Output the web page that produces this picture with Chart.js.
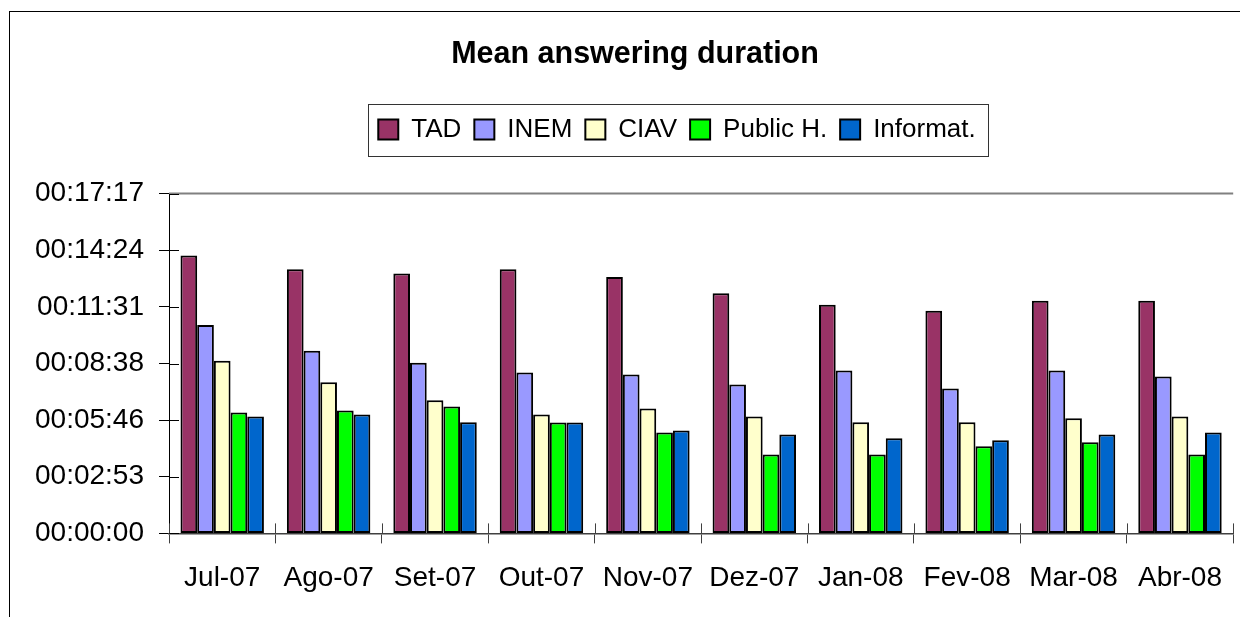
<!DOCTYPE html>
<html><head><meta charset="utf-8">
<script src="https://cdn.jsdelivr.net/npm/chart.js@4.4.1/dist/chart.umd.min.js"></script>
<style>
html,body{margin:0;padding:0;background:#fff;overflow:hidden;width:1240px;height:617px;}
#frame{position:absolute;left:9px;top:11px;width:1300px;height:700px;border:1px solid #000;box-sizing:border-box;}
#wrap{position:absolute;left:0;top:0;width:1240px;height:617px;}
</style></head><body>
<div id="frame"></div>
<div id="wrap"><canvas id="c" width="1240" height="617"></canvas></div>
<script>
const categories = ['Jul-07','Ago-07','Set-07','Out-07','Nov-07','Dez-07','Jan-08','Fev-08','Mar-08','Abr-08'];
const seriesNames = ['TAD','INEM','CIAV','Public H.','Informat.'];
// values in seconds
const tad      = [848, 806, 793, 806, 782, 733, 698, 679, 710, 710];
const inem     = [636, 557, 521, 491, 485, 454, 497, 442, 497, 479];
const ciav     = [527, 461, 406, 363, 381, 357, 339, 339, 351, 357];
const publicH  = [369, 375, 387, 338, 308, 241, 241, 266, 278, 241];
const informat = [357, 363, 339, 338, 314, 302, 290, 284, 302, 308];
const yTickValues = [0, 172.8, 345.6, 518.4, 691.2, 864, 1036.8];
const yTickLabels = ['00:00:00','00:02:53','00:05:46','00:08:38','00:11:31','00:14:24','00:17:17'];
const seriesColors = ['#993366','#9999FF','#FFFFCC','#00FF00','#0066CC'];

const FONT = "'Liberation Sans', Arial, sans-serif";
Chart.defaults.font.family = FONT;
Chart.defaults.color = '#000';

const LEGEND_SHIFT = 42;

const decor = {
  id: 'decor',
  afterLayout(chart) {
    const lg = chart.legend;
    lg.left += LEGEND_SHIFT; lg.right += LEGEND_SHIFT;
  },
  beforeDatasetsDraw(chart) {
    const {ctx, chartArea: a} = chart;
    ctx.save();
    ctx.strokeStyle = '#808080'; ctx.lineWidth = 2;
    ctx.beginPath(); ctx.moveTo(a.left, a.top); ctx.lineTo(a.right, a.top); ctx.stroke();
    ctx.restore();
  },
  afterDraw(chart) {
    const {ctx, chartArea: a} = chart;
    const ys = chart.scales.y, xs = chart.scales.x;
    ctx.save();
    ctx.strokeStyle = '#000'; ctx.lineWidth = 1;
    ys.ticks.forEach(t => {
      const y = Math.round(ys.getPixelForValue(t.value)) + 0.5;
      ctx.beginPath(); ctx.moveTo(a.left, y); ctx.lineTo(a.left + 10, y); ctx.stroke();
    });
    ctx.strokeStyle = '#404040';
    const n = categories.length, w = (xs.right - xs.left) / n;
    for (let i = 0; i <= n; i++) {
      const x = Math.round(xs.left + i * w) + 0.5;
      ctx.beginPath(); ctx.moveTo(x, a.bottom - 10); ctx.lineTo(x, a.bottom); ctx.stroke();
    }
    const hb = chart.legend.legendHitBoxes;
    if (hb && hb.length) {
      const last = hb[hb.length - 1];
      const x0 = hb[0].left - 10, x1 = last.left + last.width + 13;
      const y0 = hb[0].top - 13, y1 = hb[0].top + hb[0].height + 13;
      ctx.strokeStyle = '#333'; ctx.lineWidth = 1;
      ctx.strokeRect(Math.round(x0) + 0.5, Math.round(y0) + 0.5, Math.round(x1 - x0), Math.round(y1 - y0));
    }
    ctx.restore();
  }
};

const seriesData = [tad, inem, ciav, publicH, informat];
new Chart(document.getElementById('c'), {
  type: 'bar',
  data: {
    labels: categories,
    datasets: seriesNames.map((name, i) => ({
      label: name,
      data: seriesData[i],
      backgroundColor: seriesColors[i],
      borderColor: '#000',
      borderWidth: 2,
      borderSkipped: false,
      categoryPercentage: 0.784,
      barPercentage: 1.0
    }))
  },
  options: {
    responsive: false,
    animation: false,
    layout: { padding: { left: 30, right: 0, top: 0, bottom: 4 } },
    plugins: {
      title: {
        display: true, text: 'Mean answering duration', color: '#000',
        font: { size: 30.5, weight: 'bold', family: FONT, lineHeight: 1.2 },
        padding: { top: 36, bottom: 31 }
      },
      subtitle: {
        display: true, text: '', weight: 500,
        font: { size: 10, lineHeight: 1 },
        padding: { top: 0, bottom: 31 }
      },
      legend: {
        display: true, position: 'top',
        labels: { boxWidth: 20, boxHeight: 20, padding: 13, color: '#000',
                  font: { size: 26, family: FONT } }
      },
      tooltip: { enabled: false }
    },
    scales: {
      x: {
        grid: { offset: true, drawOnChartArea: false, tickLength: 10, color: '#404040' },
        border: { color: '#404040', width: 1.5 },
        ticks: { font: { size: 28, family: FONT }, color: '#000', padding: 18, maxRotation: 0, autoSkip: false }
      },
      y: {
        min: 0, max: 1036.8,
        afterFit(s) { s.width = 139; },
        afterBuildTicks(s) { s.ticks = yTickValues.map(v => ({ value: v })); },
        grid: { drawOnChartArea: false, tickLength: 10, color: '#000' },
        border: { color: '#000', width: 1 },
        ticks: { font: { size: 28, family: FONT }, color: '#000', padding: 15,
                 callback: (v, i) => yTickLabels[i] }
      }
    }
  },
  plugins: [decor]
});
</script>
</body></html>
